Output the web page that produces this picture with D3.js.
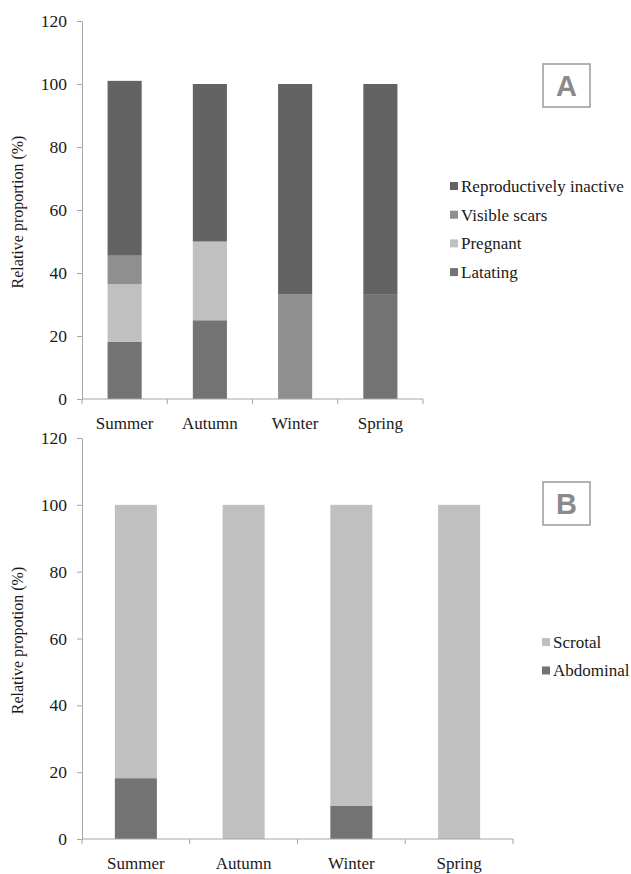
<!DOCTYPE html>
<html>
<head>
<meta charset="utf-8">
<script src="https://cdn.jsdelivr.net/npm/d3@7"></script>
<style>
  html, body { margin: 0; padding: 0; background: #fff; }
  svg { display: block; }
</style>
</head>
<body>
<svg id="chart" width="631" height="874"></svg>
<script>
// ---------- Data ----------
const seasons = ["Summer", "Autumn", "Winter", "Spring"];
const yTicks = [0, 20, 40, 60, 80, 100, 120];

// Panel A (females)
const seriesA = ["Latating", "Pregnant", "Visible scars", "Reproductively inactive"];
const latating = [18.2, 25, 0, 33.3];
const pregnant = [18.2, 25, 0, 0];
const visibleScars = [9.1, 0, 33.3, 0];
const reproInactive = [55.5, 50, 66.7, 66.7];
const colorsA = ["#737373", "#c0c0c0", "#8f8f8f", "#636363"];
const legendOrderA = ["Reproductively inactive", "Visible scars", "Pregnant", "Latating"];

// Panel B (males)
const seriesB = ["Abdominal", "Scrotal"];
const abdominal = [18.2, 0, 10, 0];
const scrotal = [81.8, 100, 90, 100];
const colorsB = ["#737373", "#c0c0c0"];
const legendOrderB = ["Scrotal", "Abdominal"];

// ---------- Drawing ----------
const SERIF = '"Liberation Serif", "Times New Roman", serif';
const SANS = '"Liberation Sans", Arial, sans-serif';
const svg = d3.select("#chart");

function panel(cfg) {
  const g = svg.append("g");
  const x = d3.scaleBand().domain(seasons).range([cfg.x0, cfg.x1]).paddingInner(cfg.pad).paddingOuter(cfg.pad / 2);
  const y = d3.scaleLinear().domain([0, 120]).range([cfg.yBottom, cfg.yTop]);
  const color = d3.scaleOrdinal().domain(cfg.series).range(cfg.colors);

  const rows = seasons.map((s, i) => {
    const o = { season: s };
    cfg.series.forEach((k, j) => o[k] = cfg.values[j][i]);
    return o;
  });
  const stacked = d3.stack().keys(cfg.series)(rows);

  g.selectAll("g.layer").data(stacked).join("g")
    .attr("fill", d => color(d.key))
    .selectAll("rect").data(d => d).join("rect")
    .attr("x", d => x(d.data.season))
    .attr("width", x.bandwidth())
    .attr("y", d => y(d[1]))
    .attr("height", d => Math.max(0, y(d[0]) - y(d[1])));

  // Y axis
  const yAxis = g.append("g").attr("transform", `translate(${cfg.x0},0)`)
    .call(d3.axisLeft(y).tickValues(yTicks).tickSize(5).tickPadding(10).tickSizeOuter(0));
  yAxis.select(".domain").attr("stroke", "#a6a6a6");
  yAxis.selectAll(".tick line").attr("stroke", "#a6a6a6");
  yAxis.selectAll(".tick text")
    .style("font-family", SERIF).style("font-size", "17.5px").style("fill", "#1a1a1a");

  // X axis line with boundary ticks
  const xAxis = g.append("g");
  xAxis.append("line").attr("x1", cfg.x0).attr("x2", cfg.x1)
    .attr("y1", y(0)).attr("y2", y(0)).attr("stroke", "#a6a6a6");
  const bounds = seasons.map(s => x(s) - x.step() * x.paddingInner() / 2).concat([cfg.x1]);
  xAxis.selectAll("line.tk").data(bounds).join("line").attr("class", "tk")
    .attr("x1", d => d).attr("x2", d => d)
    .attr("y1", y(0)).attr("y2", y(0) + 5).attr("stroke", "#a6a6a6");
  xAxis.selectAll("text").data(seasons).join("text")
    .attr("x", d => x(d) + x.bandwidth() / 2)
    .attr("y", y(0) + cfg.labelDy)
    .attr("text-anchor", "middle")
    .style("font-family", SERIF).style("font-size", "17px").style("fill", "#1a1a1a")
    .text(d => d);

  // Y label
  g.append("text")
    .attr("transform", `translate(${cfg.ylabelX},${(y(0) + y(120)) / 2 + 2}) rotate(-90)`)
    .attr("text-anchor", "middle")
    .style("font-family", SERIF).style("font-size", "16px").style("fill", "#1a1a1a")
    .text(cfg.ylabel);

  // Legend
  const lg = g.append("g").attr("transform", `translate(${cfg.legX},${cfg.legY})`);
  const items = lg.selectAll("g").data(cfg.legendOrder).join("g")
    .attr("transform", (d, i) => `translate(0,${i * cfg.legStep})`);
  items.append("rect").attr("x", 0).attr("y", -4).attr("width", 8).attr("height", 8)
    .attr("fill", d => color(d));
  items.append("text").attr("x", 11).attr("y", 0).attr("dy", "0.35em")
    .style("font-family", SERIF).style("font-size", "17px").style("fill", "#1a1a1a")
    .text(d => d);

  // Panel letter box
  g.append("rect").attr("x", cfg.boxX).attr("y", cfg.boxY).attr("width", 47).attr("height", 43)
    .attr("fill", "#fff").attr("stroke", "#9a9a9a").attr("stroke-width", 1.5);
  g.append("text").attr("x", cfg.boxX + 23.5).attr("y", cfg.boxY + 32)
    .attr("text-anchor", "middle")
    .style("font-family", SANS).style("font-weight", "bold")
    .style("font-size", "29px").style("fill", "#8a8a8a").text(cfg.letter);
}

panel({
  x0: 82, x1: 423, pad: 0.6, yTop: 21, yBottom: 399,
  series: seriesA, values: [latating, pregnant, visibleScars, reproInactive], colors: colorsA,
  legendOrder: legendOrderA, legX: 450, legY: 186, legStep: 28.7,
  ylabel: "Relative proportion (%)", ylabelX: 23, labelDy: 30,
  boxX: 543, boxY: 64, letter: "A"
});

panel({
  x0: 82, x1: 513, pad: 0.61, yTop: 438, yBottom: 839,
  series: seriesB, values: [abdominal, scrotal], colors: colorsB,
  legendOrder: legendOrderB, legX: 542, legY: 642, legStep: 28.5,
  ylabel: "Relative propotion (%)", ylabelX: 23, labelDy: 30,
  boxX: 543, boxY: 482, letter: "B"
});
</script>
</body>
</html>
